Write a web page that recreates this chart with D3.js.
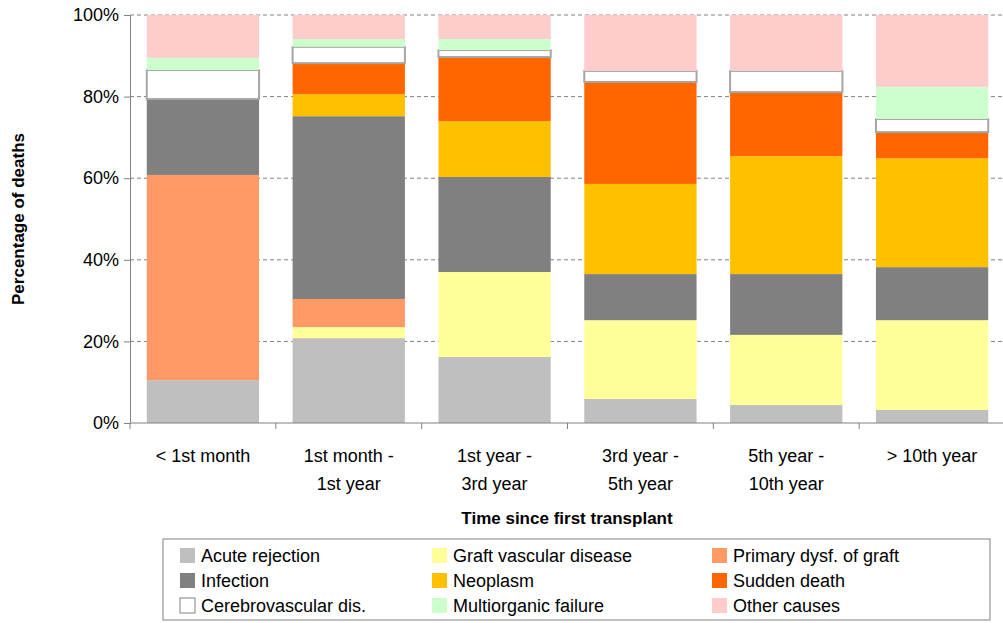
<!DOCTYPE html>
<html><head><meta charset="utf-8">
<script src="https://cdn.jsdelivr.net/npm/d3@7"></script>
<style>body{margin:0;background:#fff}svg{font-family:"Liberation Sans",Arial,sans-serif}</style>
</head><body><div id="chart"></div>
<script>
const categories = [['< 1st month'], ['1st month -', '1st year'], ['1st year -', '3rd year'], ['3rd year -', '5th year'], ['5th year -', '10th year'], ['> 10th year']]
const causes = ['Acute rejection', 'Graft vascular disease', 'Primary dysf. of graft', 'Infection', 'Neoplasm', 'Sudden death', 'Cerebrovascular dis.', 'Multiorganic failure', 'Other causes']
const colors = ['#bfbfbf', '#ffff99', '#ff9966', '#808080', '#ffc000', '#ff6600', '#ffffff', '#ccffcc', '#ffcccc']
const acute = [10.5, 20.8, 16.2, 5.9, 4.4, 3.2]
const graft = [0, 2.7, 20.8, 19.3, 17.2, 22.0]
const primary = [50.3, 6.9, 0, 0, 0, 0]
const infection = [18.6, 44.8, 23.3, 11.3, 14.9, 13.0]
const neoplasm = [0, 5.4, 13.7, 22.1, 28.9, 26.7]
const sudden = [0, 7.6, 15.7, 25.0, 15.7, 6.4]
const cerebro = [7.1, 4.0, 1.7, 2.7, 5.2, 3.2]
const multi = [3.0, 1.9, 2.7, 0, 0, 7.9]
const other = [10.5, 5.9, 5.9, 13.7, 13.7, 17.6]
const yTicks = [0, 20, 40, 60, 80, 100]

const series = [acute, graft, primary, infection, neoplasm, sudden, cerebro, multi, other]
const w = 1003, h = 623
const mLeft = 130, mRight = 1005, mTop = 15, mBottom = 423
const svg = d3.select('#chart').append('svg').attr('width', w).attr('height', h)

const x = d3.scaleBand().domain(d3.range(6)).range([mLeft, mRight]).paddingInner(0.23).paddingOuter(0.115)
const y = d3.scaleLinear().domain([0, 100]).range([mBottom, mTop])

// gridlines
svg.selectAll('.grid').data(yTicks.slice(1)).enter().append('line')
  .attr('x1', mLeft).attr('x2', mRight).attr('y1', d => y(d)).attr('y2', d => y(d))
  .attr('stroke', '#808080').attr('stroke-dasharray', '4,3')

const rows = d3.range(6).map(i => {
  const r = {}
  series.forEach((s, j) => { r[j] = s[i] })
  return r
})
const stack = d3.stack().keys(d3.range(9))(rows)

stack.forEach((layer, j) => {
  svg.append('g').selectAll('rect').data(layer).enter().append('rect')
    .attr('x', (d, i) => x(i))
    .attr('width', x.bandwidth())
    .attr('y', d => y(d[1]))
    .attr('height', d => y(d[0]) - y(d[1]))
    .attr('fill', colors[j])
    .attr('stroke', j === 6 ? '#a6a6a6' : 'none')
    .attr('stroke-width', 2)
    .style('display', d => d[1] - d[0] > 0 ? null : 'none')
})

// y axis
const yAxis = d3.axisLeft(y).tickValues(yTicks).tickFormat(d => d + '%').tickSize(6)
svg.append('g').attr('transform', `translate(${mLeft},0)`).call(yAxis)
  .call(g => g.selectAll('text').attr('font-size', 18).attr('fill', '#000').attr('dx', -2))
  .call(g => g.selectAll('line,path').attr('stroke', '#808080'))

// x axis
const xg = svg.append('g')
xg.append('line').attr('x1', mLeft).attr('x2', mRight).attr('y1', mBottom).attr('y2', mBottom).attr('stroke', '#808080')
xg.selectAll('.tk').data(d3.range(7)).enter().append('line')
  .attr('x1', i => mLeft + i * (mRight - mLeft) / 6).attr('x2', i => mLeft + i * (mRight - mLeft) / 6)
  .attr('y1', mBottom).attr('y2', mBottom + 6).attr('stroke', '#808080')
categories.forEach((c, i) => {
  const cx = x(i) + x.bandwidth() / 2
  const t = xg.append('text').attr('text-anchor', 'middle').attr('font-size', 18).attr('y', 462)
  c.forEach((line, k) => t.append('tspan').attr('x', cx).attr('dy', k ? 28 : 0).text(line))
})

svg.append('text').attr('x', 567).attr('y', 524).attr('text-anchor', 'middle')
  .attr('font-size', 17).attr('font-weight', 'bold').text('Time since first transplant')
svg.append('text').attr('transform', `translate(24,${(mTop + mBottom) / 2}) rotate(-90)`)
  .attr('text-anchor', 'middle').attr('font-size', 17).attr('font-weight', 'bold').text('Percentage of deaths')

// legend
svg.append('rect').attr('x', 163).attr('y', 539).attr('width', 827).attr('height', 81)
  .attr('fill', 'none').attr('stroke', '#808080')
const colX = [180, 432, 712]
causes.forEach((c, j) => {
  const col = j % 3, row = Math.floor(j / 3)
  const g = svg.append('g').attr('transform', `translate(${colX[col]},${548 + row * 25})`)
  g.append('rect').attr('width', 15).attr('height', 15).attr('fill', colors[j])
    .attr('stroke', j === 6 ? '#808080' : 'none')
  g.append('text').attr('x', 21).attr('y', 14).attr('font-size', 18).text(c)
})
</script></body></html>
